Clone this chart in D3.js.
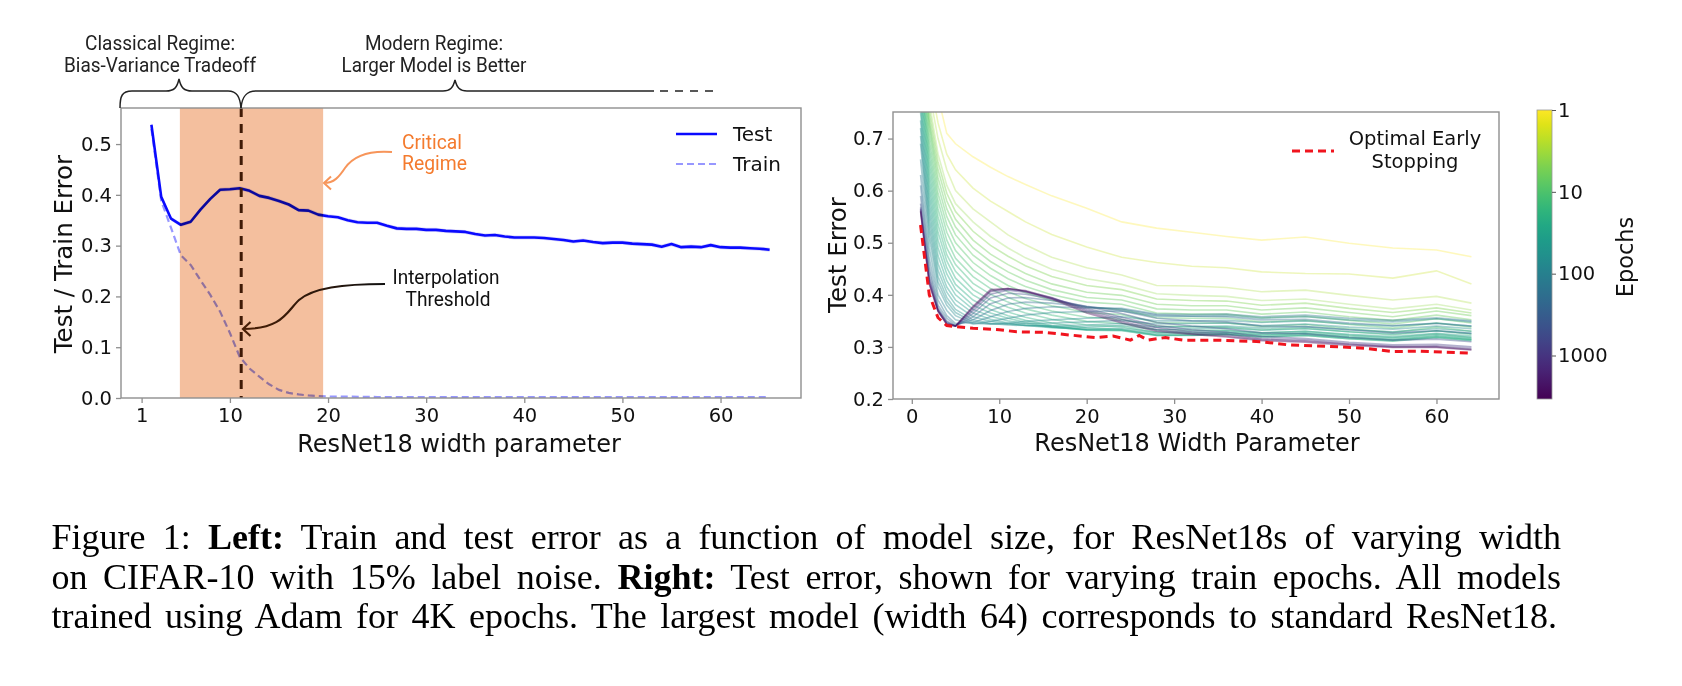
<!DOCTYPE html>
<html>
<head>
<meta charset="utf-8">
<script src="https://cdn.jsdelivr.net/npm/d3@7"></script>
<style>
  body { margin: 0; background: #fff; }
  svg { display: block; }
</style>
</head>
<body>
<svg id="fig" width="1682" height="686"></svg>
<script>
// ---- left panel data: ResNet18 width vs test / train error ----
var testWidths = [2,3,4,5,6,7,8,9,10,11,12,13,14,15,16,17,18,19,20,21,22,23,24,25,26,27,28,29,30,31,32,33,
    34,35,36,37,38,39,40,41,42,43,44,45,46,47,48,49,50,51,52,53,54,55,56,57,58,59,60,61,62,63,64,65];
var testError = [0.538,0.396,0.353,0.341,0.347,0.371,0.392,0.410,0.411,0.413,0.408,0.398,0.394,0.388,0.381,0.370,
    0.369,0.361,0.358,0.356,0.350,0.346,0.345,0.345,0.339,0.334,0.333,0.333,0.331,0.331,0.329,0.328,
    0.327,0.323,0.320,0.321,0.318,0.316,0.316,0.316,0.315,0.313,0.311,0.308,0.310,0.307,0.305,0.306,
    0.306,0.304,0.303,0.302,0.298,0.303,0.297,0.298,0.297,0.301,0.297,0.296,0.296,0.295,0.294,0.292];
var trainWidths = [2,3,4,5,6,7,8,9,10,11,12,13,14,15,16,17,18,19,20,25,30,40,50,60,65];
var trainError = [0.530,0.388,0.335,0.281,0.262,0.232,0.203,0.170,0.128,0.081,0.058,0.042,0.027,0.016,0.010,
    0.007,0.005,0.004,0.003,0.002,0.002,0.002,0.002,0.002,0.002];
var criticalRegime = [4.9, 19.5];
var interpolationThreshold = 11.15;
var leftXTicks = [1, 10, 20, 30, 40, 50, 60];
var leftYTicks = [0.0, 0.1, 0.2, 0.3, 0.4, 0.5];

// ---- right panel data: test error per epoch count ----
var widthGrid = [1,2,3,4,5,7,9,11,13,16,20,24,28,32,36,40,45,50,55,60,64];
var epochList = [1,2,3,4,5,6,7,8,9,11,13,15,17,20,24,28,33,40,47,55,65,75,100,140,200,300,500,800,1300,2000,3300];
var epochErrors = [
  [0.98,0.86,0.78,0.71,0.69,0.665,0.645,0.627,0.612,0.590,0.566,0.540,0.528,0.520,0.512,0.505,0.511,0.499,0.490,0.486,0.473],
  [0.95,0.82,0.73,0.67,0.64,0.605,0.580,0.560,0.540,0.516,0.492,0.472,0.462,0.455,0.452,0.444,0.441,0.440,0.432,0.446,0.421],
  [0.93,0.79,0.70,0.64,0.60,0.565,0.540,0.515,0.496,0.472,0.452,0.438,0.418,0.417,0.414,0.406,0.409,0.399,0.390,0.397,0.384],
  [0.91,0.77,0.67,0.61,0.575,0.540,0.512,0.490,0.471,0.449,0.431,0.420,0.402,0.399,0.397,0.389,0.392,0.382,0.373,0.382,0.371],
  [0.90,0.755,0.655,0.595,0.560,0.522,0.495,0.474,0.456,0.435,0.418,0.410,0.392,0.389,0.388,0.380,0.384,0.374,0.366,0.375,0.365],
  [0.89,0.74,0.64,0.58,0.545,0.505,0.478,0.458,0.441,0.421,0.405,0.399,0.382,0.379,0.379,0.371,0.375,0.366,0.358,0.369,0.360],
  [0.88,0.73,0.625,0.565,0.530,0.490,0.464,0.444,0.428,0.410,0.395,0.390,0.373,0.371,0.371,0.363,0.367,0.358,0.351,0.361,0.352],
  [0.87,0.72,0.61,0.55,0.515,0.476,0.451,0.431,0.416,0.400,0.386,0.382,0.365,0.363,0.363,0.356,0.359,0.351,0.344,0.354,0.346],
  [0.86,0.705,0.595,0.535,0.500,0.462,0.437,0.418,0.404,0.389,0.376,0.372,0.356,0.355,0.355,0.348,0.351,0.343,0.336,0.346,0.338],
  [0.85,0.69,0.58,0.52,0.485,0.448,0.424,0.406,0.393,0.379,0.366,0.362,0.347,0.346,0.346,0.339,0.343,0.335,0.328,0.338,0.330],
  [0.84,0.675,0.565,0.505,0.470,0.435,0.412,0.395,0.382,0.369,0.357,0.353,0.340,0.339,0.338,0.333,0.336,0.329,0.323,0.331,0.324],
  [0.83,0.66,0.55,0.49,0.458,0.422,0.401,0.386,0.373,0.361,0.349,0.345,0.333,0.332,0.332,0.327,0.330,0.323,0.318,0.325,0.318],
  [0.82,0.645,0.535,0.477,0.445,0.410,0.390,0.376,0.365,0.353,0.342,0.339,0.328,0.327,0.328,0.323,0.326,0.319,0.314,0.321,0.315],
  [0.81,0.63,0.52,0.465,0.432,0.400,0.381,0.367,0.357,0.346,0.336,0.334,0.323,0.323,0.324,0.319,0.322,0.316,0.311,0.318,0.312],
  [0.795,0.615,0.505,0.452,0.420,0.390,0.372,0.360,0.351,0.341,0.333,0.332,0.322,0.322,0.324,0.319,0.322,0.316,0.312,0.318,0.313],
  [0.78,0.60,0.49,0.440,0.410,0.380,0.365,0.355,0.347,0.339,0.332,0.331,0.322,0.323,0.325,0.321,0.324,0.318,0.314,0.320,0.315],
  [0.765,0.585,0.475,0.427,0.400,0.372,0.359,0.350,0.344,0.338,0.333,0.333,0.325,0.326,0.328,0.324,0.327,0.321,0.317,0.323,0.318],
  [0.75,0.57,0.46,0.415,0.390,0.365,0.353,0.346,0.341,0.337,0.334,0.336,0.328,0.330,0.331,0.327,0.330,0.324,0.320,0.326,0.321],
  [0.735,0.555,0.447,0.405,0.381,0.358,0.349,0.344,0.341,0.339,0.338,0.341,0.333,0.335,0.336,0.332,0.335,0.329,0.325,0.331,0.326],
  [0.72,0.54,0.435,0.395,0.372,0.352,0.345,0.342,0.341,0.341,0.342,0.345,0.338,0.339,0.340,0.336,0.339,0.333,0.329,0.335,0.330],
  [0.705,0.525,0.425,0.387,0.366,0.348,0.344,0.344,0.345,0.346,0.348,0.351,0.344,0.345,0.346,0.341,0.344,0.338,0.334,0.340,0.335],
  [0.69,0.51,0.415,0.380,0.360,0.345,0.344,0.346,0.349,0.352,0.355,0.358,0.350,0.350,0.351,0.347,0.350,0.344,0.340,0.346,0.340],
  [0.66,0.49,0.400,0.370,0.352,0.344,0.349,0.355,0.361,0.366,0.368,0.369,0.359,0.359,0.360,0.355,0.358,0.352,0.348,0.354,0.348],
  [0.63,0.47,0.390,0.360,0.345,0.347,0.358,0.368,0.374,0.377,0.375,0.374,0.363,0.362,0.363,0.358,0.361,0.355,0.351,0.356,0.350],
  [0.61,0.455,0.380,0.355,0.342,0.352,0.370,0.382,0.386,0.384,0.377,0.372,0.361,0.359,0.358,0.352,0.353,0.346,0.341,0.345,0.340],
  [0.59,0.445,0.375,0.350,0.340,0.358,0.383,0.394,0.395,0.389,0.378,0.369,0.355,0.350,0.348,0.340,0.339,0.333,0.327,0.331,0.326],
  [0.575,0.435,0.372,0.348,0.340,0.364,0.394,0.403,0.401,0.392,0.377,0.364,0.347,0.340,0.335,0.327,0.325,0.318,0.313,0.315,0.310],
  [0.568,0.430,0.370,0.346,0.340,0.369,0.401,0.409,0.405,0.394,0.374,0.357,0.341,0.333,0.328,0.320,0.316,0.309,0.304,0.305,0.300],
  [0.565,0.425,0.370,0.345,0.340,0.373,0.406,0.411,0.407,0.395,0.371,0.353,0.337,0.329,0.324,0.316,0.313,0.306,0.301,0.302,0.297],
  [0.562,0.422,0.368,0.344,0.340,0.376,0.408,0.412,0.408,0.394,0.368,0.349,0.333,0.326,0.321,0.314,0.311,0.305,0.300,0.300,0.295],
  [0.560,0.420,0.368,0.343,0.340,0.378,0.410,0.412,0.407,0.392,0.365,0.346,0.330,0.324,0.319,0.312,0.309,0.303,0.299,0.299,0.294]
];
var optimalWidths = [1,2,3,4,5,7,10,12,15,18,21,23,25,26,27,29,31,35,40,43,46,49,52,55,58,61,64];
var optimalError = [0.534,0.400,0.356,0.341,0.339,0.336,0.333,0.329,0.328,0.323,0.318,0.321,0.313,0.322,0.313,
    0.318,0.313,0.313,0.310,0.304,0.302,0.300,0.297,0.291,0.292,0.290,0.288];
var rightXTicks = [0, 10, 20, 30, 40, 50, 60];
var rightYTicks = [0.2, 0.3, 0.4, 0.5, 0.6, 0.7];
var epochTicks = [1, 10, 100, 1000];

var captionLines = [
  [['Figure 1: ', false], ['Left:', true], [' Train and test error as a function of model size, for ResNet18s of varying width', false]],
  [['on CIFAR-10 with 15% label noise. ', false], ['Right:', true], [' Test error, shown for varying train epochs. All models', false]],
  [['trained using Adam for 4K epochs. The largest model (width 64) corresponds to standard ResNet18.', false]]
];

(function () {
    var svg = d3.select('#fig');
    var defs = svg.append('defs');
    var tickFont = 'DejaVu Sans, sans-serif';
    var noteFont = 'Roboto, sans-serif';
    var spine = '#8f8f8f';

    // ---------- left panel ----------
    var xL = d3.scaleLinear().domain([-1.1, 68.2]).range([121, 801]);
    var yL = d3.scaleLinear().domain([0, 0.571]).range([398, 108]);
    var left = svg.append('g');

    var testPts = testWidths.map(function (w, i) { return [w, testError[i]]; });
    var trainPts = trainWidths.map(function (w, i) { return [w, trainError[i]]; });

    // faint band around the test curve
    left.append('path')
        .datum(testPts)
        .attr('d', d3.area().x(function (d) { return xL(d[0]); })
            .y0(function (d) { return yL(d[1] - 0.004); })
            .y1(function (d) { return yL(d[1] + 0.004); }))
        .attr('fill', '#6f63e8').attr('opacity', 0.25);

    var lineL = d3.line().x(function (d) { return xL(d[0]); }).y(function (d) { return yL(d[1]); });
    left.append('path').datum(trainPts).attr('d', lineL)
        .attr('fill', 'none').attr('stroke', '#6b6bff').attr('stroke-opacity', 0.7)
        .attr('stroke-width', 2.2).attr('stroke-dasharray', '7,4');
    left.append('path').datum(testPts).attr('d', lineL)
        .attr('fill', 'none').attr('stroke', '#0a0aff').attr('stroke-width', 2.6)
        .attr('stroke-linejoin', 'round');

    // critical regime shading (multiplied over the curves)
    left.append('rect')
        .attr('x', xL(criticalRegime[0])).attr('y', yL.range()[1])
        .attr('width', xL(criticalRegime[1]) - xL(criticalRegime[0]))
        .attr('height', yL.range()[0] - yL.range()[1])
        .attr('fill', '#f4bf9e')
        .style('mix-blend-mode', 'multiply');

    // interpolation threshold
    left.append('line')
        .attr('x1', xL(interpolationThreshold)).attr('x2', xL(interpolationThreshold))
        .attr('y1', yL.range()[1]).attr('y2', yL.range()[0])
        .attr('stroke', '#3f1a06').attr('stroke-width', 3).attr('stroke-dasharray', '9,7');

    drawFrame(left, xL, yL);

    left.append('g').attr('transform', 'translate(0,' + yL.range()[0] + ')')
        .call(styleAxis, d3.axisBottom(xL).tickValues(leftXTicks).tickFormat(d3.format('d')), 'x');
    left.append('g').attr('transform', 'translate(' + xL.range()[0] + ',0)')
        .call(styleAxis, d3.axisLeft(yL).tickValues(leftYTicks).tickFormat(d3.format('.1f')), 'y');

    left.append('text').attr('x', 459).attr('y', 452).attr('text-anchor', 'middle')
        .style('font', '24px ' + tickFont).attr('fill', '#111').text('ResNet18 width parameter');
    left.append('text').attr('transform', 'translate(72,254) rotate(-90)').attr('text-anchor', 'middle')
        .style('font', '24.5px ' + tickFont).attr('fill', '#111').text('Test / Train Error');

    // legend
    left.append('line').attr('x1', 676).attr('x2', 717).attr('y1', 134).attr('y2', 134)
        .attr('stroke', '#0a0aff').attr('stroke-width', 2.6);
    left.append('line').attr('x1', 676).attr('x2', 717).attr('y1', 164).attr('y2', 164)
        .attr('stroke', '#6b6bff').attr('stroke-opacity', 0.7).attr('stroke-width', 2.2)
        .attr('stroke-dasharray', '7,4');
    left.append('text').attr('x', 733).attr('y', 141).style('font', '20px ' + tickFont).attr('fill', '#111').text('Test');
    left.append('text').attr('x', 733).attr('y', 171).style('font', '20px ' + tickFont).attr('fill', '#111').text('Train');

    // annotations
    note(left, 'Critical', 402, 149, 60, '#f47b2e', 'start');
    note(left, 'Regime', 402, 170, 65, '#f47b2e', 'start');
    left.append('path')
        .attr('d', 'M392,152 C366,150 352,158 345,168 C339,177 334,183 324,183 M331,176.5 L324,183 L331,189.5')
        .attr('fill', 'none').attr('stroke', '#f7955a').attr('stroke-width', 2);

    note(left, 'Interpolation', 446, 283.5, 107, '#111', 'middle');
    note(left, 'Threshold', 448, 306, 85, '#111', 'middle');
    var grad = defs.append('linearGradient').attr('id', 'arrowGrad')
        .attr('gradientUnits', 'userSpaceOnUse').attr('x1', 385).attr('x2', 242).attr('y1', 0).attr('y2', 0);
    grad.append('stop').attr('offset', 0).attr('stop-color', '#111');
    grad.append('stop').attr('offset', 1).attr('stop-color', '#4a1f05');
    left.append('path')
        .attr('d', 'M385,284 C342,284 313,288 299,300 C287,311 283,329 243,329 M250.5,322 L243,329 L250.5,336')
        .attr('fill', 'none').attr('stroke', 'url(#arrowGrad)').attr('stroke-width', 2.2);

    // regime braces above the left panel
    var brace = svg.append('g').attr('fill', 'none').attr('stroke', '#222').attr('stroke-width', 1.5);
    brace.append('path').attr('d',
        'M120,108 C120,96 122,91 132,91 L166,91 C174,91 177,88 179,79 C181,88 184,91 192,91 L228,91 C237,91 240,97 241,108');
    brace.append('path').attr('d',
        'M241,108 C242,97 246,91 256,91 L443,91 C450,91 453,88 455,80 C457,88 460,91 467,91 L654,91');
    brace.append('path').attr('d', 'M660,91 L720,91').attr('stroke-dasharray', '8,7');
    note(svg, 'Classical Regime:', 160, 49.5, 150, '#222', 'middle');
    note(svg, 'Bias-Variance Tradeoff', 160, 72, 192, '#222', 'middle');
    note(svg, 'Modern Regime:', 434, 49.5, 138, '#222', 'middle');
    note(svg, 'Larger Model is Better', 434, 72, 185, '#222', 'middle');

    // ---------- right panel ----------
    var xR = d3.scaleLinear().domain([-2.15, 67.15]).range([893, 1499]);
    var yR = d3.scaleLinear().domain([0.2, 0.751]).range([399, 112]);
    var epochColor = d3.scaleLog().domain([1, 3400]).range([1, 0]);
    var right = svg.append('g');

    defs.append('clipPath').attr('id', 'clipR').append('rect')
        .attr('x', 893).attr('y', 112).attr('width', 1499 - 893).attr('height', 399 - 112);

    var lineR = d3.line().x(function (d) { return xR(d[0]); }).y(function (d) { return yR(d[1]); });
    var curves = right.append('g').attr('clip-path', 'url(#clipR)');
    curves.selectAll('.epoch')
        .data(epochList.map(function (e, k) {
            return { epoch: e, pts: widthGrid.map(function (w, i) { return [w, epochErrors[k][i]]; }) };
        }))
        .enter().append('path')
            .attr('class', 'epoch')
            .attr('d', function (d) { return lineR(d.pts); })
            .attr('fill', 'none')
            .attr('stroke', function (d) { return d3.interpolateViridis(epochColor(d.epoch)); })
            .attr('stroke-opacity', function (d) { return d.epoch < 5 ? 0.3 : 0.4; })
            .attr('stroke-width', 1.6);

    curves.append('path')
        .datum(optimalWidths.map(function (w, i) { return [w, optimalError[i]]; }))
        .attr('d', lineR).attr('fill', 'none').attr('stroke', '#f0141e')
        .attr('stroke-width', 3).attr('stroke-dasharray', '8,5');

    drawFrame(right, xR, yR);
    right.append('g').attr('transform', 'translate(0,' + yR.range()[0] + ')')
        .call(styleAxis, d3.axisBottom(xR).tickValues(rightXTicks).tickFormat(d3.format('d')), 'x');
    right.append('g').attr('transform', 'translate(' + xR.range()[0] + ',0)')
        .call(styleAxis, d3.axisLeft(yR).tickValues(rightYTicks).tickFormat(d3.format('.1f')), 'y');

    right.append('text').attr('x', 1197).attr('y', 451).attr('text-anchor', 'middle')
        .style('font', '24px ' + tickFont).attr('fill', '#111').text('ResNet18 Width Parameter');
    right.append('text').attr('transform', 'translate(846,255) rotate(-90)').attr('text-anchor', 'middle')
        .style('font', '24.5px ' + tickFont).attr('fill', '#111').text('Test Error');

    right.append('line').attr('x1', 1292).attr('x2', 1334).attr('y1', 151).attr('y2', 151)
        .attr('stroke', '#f0141e').attr('stroke-width', 3).attr('stroke-dasharray', '8,5');
    right.append('text').attr('x', 1415).attr('y', 145).attr('text-anchor', 'middle')
        .style('font', '19.5px ' + tickFont).attr('fill', '#111').text('Optimal Early');
    right.append('text').attr('x', 1415).attr('y', 168).attr('text-anchor', 'middle')
        .style('font', '19.5px ' + tickFont).attr('fill', '#111').text('Stopping');

    // ---------- colorbar ----------
    var yC = d3.scaleLog().domain([1, 3400]).range([110, 399]);
    var cgrad = defs.append('linearGradient').attr('id', 'cbGrad')
        .attr('x1', 0).attr('x2', 0).attr('y1', 0).attr('y2', 1);
    d3.range(0, 1.0001, 0.05).forEach(function (t) {
        cgrad.append('stop').attr('offset', t).attr('stop-color', d3.interpolateViridis(1 - t));
    });
    svg.append('rect').attr('x', 1537).attr('y', 110).attr('width', 15).attr('height', 289)
        .attr('fill', 'url(#cbGrad)').attr('stroke', '#999').attr('stroke-width', 0.8);
    var cb = svg.append('g').attr('transform', 'translate(1552,0)')
        .call(d3.axisRight(yC).tickValues(epochTicks).tickFormat(d3.format('d')).tickSizeOuter(0).tickSize(4));
    cb.select('.domain').remove();
    cb.selectAll('line').attr('stroke', '#555');
    cb.selectAll('text').style('font', '19.5px ' + tickFont).attr('fill', '#111').attr('x', 6);
    svg.append('text').attr('transform', 'translate(1633,257) rotate(-90)').attr('text-anchor', 'middle')
        .style('font', '22.5px ' + tickFont).attr('fill', '#111').text('Epochs');

    // ---------- caption (justified to the measured line ends) ----------
    var capLeft = 51.5;
    var capEnds = [1561, 1561, 1557];
    captionLines.forEach(function (parts, i) {
        var t = svg.append('text').attr('x', capLeft).attr('y', 549 + i * 39.6)
            .style('font', '36px "Liberation Serif", "Times New Roman", serif').attr('fill', '#000');
        parts.forEach(function (p) {
            t.append('tspan').attr('font-weight', p[1] ? 'bold' : 'normal').text(p[0]);
        });
        var target = capEnds[i] - capLeft;
        var w = t.node().getComputedTextLength();
        if (w > target) {
            t.attr('transform', 'translate(' + capLeft + ',0) scale(' + (target / w) + ',1) translate(' + (-capLeft) + ',0)');
        } else {
            var spaces = t.text().split(' ').length - 1;
            t.attr('word-spacing', (target - w) / spaces);
        }
    });

    // ---------- helpers ----------
    function drawFrame(g, x, y) {
        g.append('rect')
            .attr('x', x.range()[0]).attr('y', y.range()[1])
            .attr('width', x.range()[1] - x.range()[0]).attr('height', y.range()[0] - y.range()[1])
            .attr('fill', 'none').attr('stroke', spine).attr('stroke-width', 1.4);
    }

    function styleAxis(g, axis, dir) {
        g.call(axis.tickSizeOuter(0).tickSize(5).tickPadding(dir === 'x' ? 5 : 4));
        g.select('.domain').remove();
        g.selectAll('.tick line').attr('stroke', spine).attr('stroke-width', 1.3);
        g.selectAll('.tick text').style('font', '19.5px ' + tickFont).attr('fill', '#111');
    }

    function note(g, str, x, y, width, color, anchor) {
        g.append('text').attr('x', x).attr('y', y).attr('text-anchor', anchor)
            .attr('textLength', width).attr('lengthAdjust', 'spacingAndGlyphs')
            .style('font', '19.5px ' + noteFont).attr('fill', color).text(str);
    }
}());
</script>
</body>
</html>
